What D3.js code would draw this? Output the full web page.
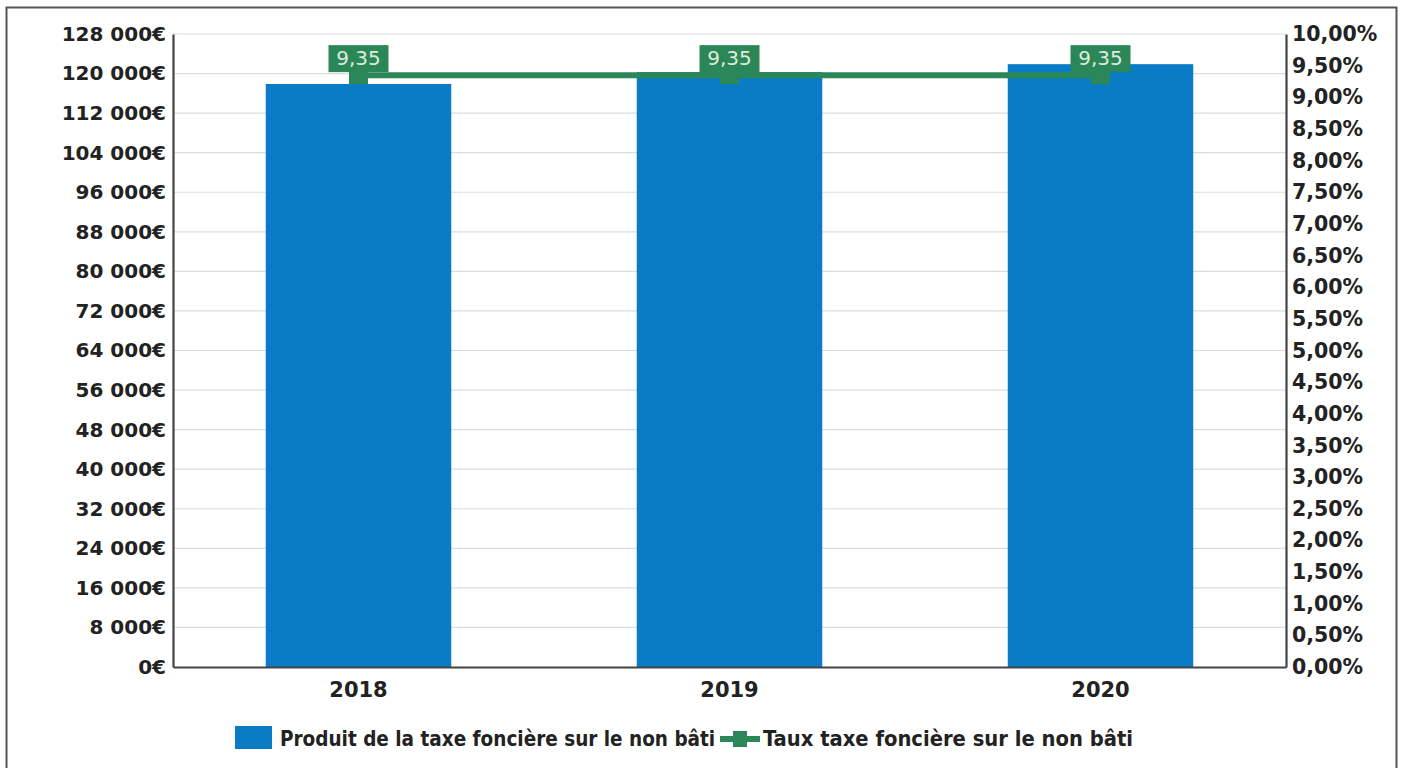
<!DOCTYPE html>
<html>
<head>
<meta charset="utf-8">
<script src="https://cdn.jsdelivr.net/npm/d3@7"></script>
<style>
  html, body { margin: 0; padding: 0; background: #fff; }
  svg { display: block; }
</style>
</head>
<body>
<svg id="chart" width="1404" height="768"></svg>
<script>
// Produit et taux de la taxe foncière sur le non bâti
const years = ["2018", "2019", "2020"];
const produit = [117900, 120300, 121900];        // €
const taux = [9.35, 9.35, 9.35];                 // %
const tauxLabels = ["9,35", "9,35", "9,35"];
const leftTicks = [0, 8000, 16000, 24000, 32000, 40000, 48000, 56000, 64000,
                   72000, 80000, 88000, 96000, 104000, 112000, 120000, 128000];
const rightTicks = [0, 0.5, 1, 1.5, 2, 2.5, 3, 3.5, 4, 4.5, 5, 5.5, 6, 6.5,
                    7, 7.5, 8, 8.5, 9, 9.5, 10];
const seriesNames = ["Produit de la taxe foncière sur le non bâti",
                     "Taux taxe foncière sur le non bâti"];

const BAR = "#0a7cc6", LINE = "#2b8757", AXIS = "#444";
const FONT = "'DejaVu Sans', Verdana, sans-serif";

const svg = d3.select("#chart");
const m = { left: 173, right: 1286, top: 34, bottom: 667 };

// outer frame
svg.append("rect").attr("x", 6.5).attr("y", 7.5).attr("width", 1390).attr("height", 780)
  .attr("fill", "none").attr("stroke", "#555").attr("stroke-width", 2);

const x = d3.scaleBand().domain(years).range([m.left, m.right]).paddingInner(0.5).paddingOuter(0.25);
const yL = d3.scaleLinear().domain([0, 128000]).range([m.bottom, m.top]);
const yR = d3.scaleLinear().domain([0, 10]).range([m.bottom, m.top]);

const fmtEur = d => d3.format(",")(d).replace(/,/g, " ") + "€";
const fmtPct = d => d.toFixed(2).replace(".", ",") + "%";

// gridlines
svg.append("g").selectAll("line").data(leftTicks.filter(d => d > 0)).join("line")
  .attr("x1", m.left).attr("x2", m.right)
  .attr("y1", d => yL(d)).attr("y2", d => yL(d))
  .attr("stroke", "#dcdcdc").attr("stroke-width", 1.2);

// bars
svg.append("g").selectAll("rect").data(years).join("rect")
  .attr("x", d => x(d)).attr("width", x.bandwidth())
  .attr("y", (d, i) => yL(produit[i]))
  .attr("height", (d, i) => yL(0) - yL(produit[i]))
  .attr("fill", BAR);

// axes
const axL = svg.append("g").attr("transform", `translate(${m.left},0)`)
  .call(d3.axisLeft(yL).tickValues(leftTicks).tickFormat(fmtEur).tickSize(0).tickPadding(7));
const axR = svg.append("g").attr("transform", `translate(${m.right},0)`)
  .call(d3.axisRight(yR).tickValues(rightTicks).tickFormat(fmtPct).tickSize(0).tickPadding(6));
const axB = svg.append("g").attr("transform", `translate(0,${m.bottom})`)
  .call(d3.axisBottom(x).tickSize(0).tickPadding(15));

[axL, axR, axB].forEach(g => {
  g.select(".domain").attr("stroke", AXIS).attr("stroke-width", 2.2);
  g.selectAll("text").attr("font-family", FONT).attr("font-weight", "bold")
    .attr("fill", "#222");
});
axL.selectAll("text").attr("font-size", 20);
axR.selectAll("text").attr("font-size", 20.5);
axB.selectAll("text").attr("font-size", 21);

// rate line
const line = d3.line().x((d, i) => x(years[i]) + x.bandwidth() / 2).y(d => yR(d));
svg.append("path").datum(taux).attr("d", line)
  .attr("fill", "none").attr("stroke", LINE).attr("stroke-width", 6);

// markers and value labels
const lab = svg.append("g").selectAll("g").data(taux).join("g")
  .attr("transform", (d, i) => `translate(${x(years[i]) + x.bandwidth() / 2},${yR(d)})`);
lab.append("rect").attr("x", -9.5).attr("y", -9).attr("width", 19).attr("height", 18).attr("fill", LINE);
lab.append("rect").attr("x", -30).attr("y", -30).attr("width", 60).attr("height", 27).attr("fill", LINE);
lab.append("text").attr("y", -10).attr("text-anchor", "middle")
  .attr("font-family", FONT).attr("font-size", 20).attr("fill", "#dfeadf")
  .text((d, i) => tauxLabels[i]);

// legend
const lg = svg.append("g").attr("font-family", "'DejaVu Sans Condensed', 'DejaVu Sans', sans-serif")
  .attr("font-weight", "bold").attr("font-size", 20.5).attr("fill", "#222");
lg.append("rect").attr("x", 235).attr("y", 726).attr("width", 37).attr("height", 23).attr("fill", BAR);
lg.append("text").attr("x", 280).attr("y", 746).text(seriesNames[0]);
lg.append("line").attr("x1", 720).attr("x2", 760).attr("y1", 739).attr("y2", 739)
  .attr("stroke", LINE).attr("stroke-width", 6);
lg.append("rect").attr("x", 733).attr("y", 731).attr("width", 14).attr("height", 16).attr("fill", LINE);
lg.append("text").attr("x", 763).attr("y", 746)
  .attr("textLength", 370).attr("lengthAdjust", "spacingAndGlyphs").text(seriesNames[1]);
</script>
</body>
</html>
